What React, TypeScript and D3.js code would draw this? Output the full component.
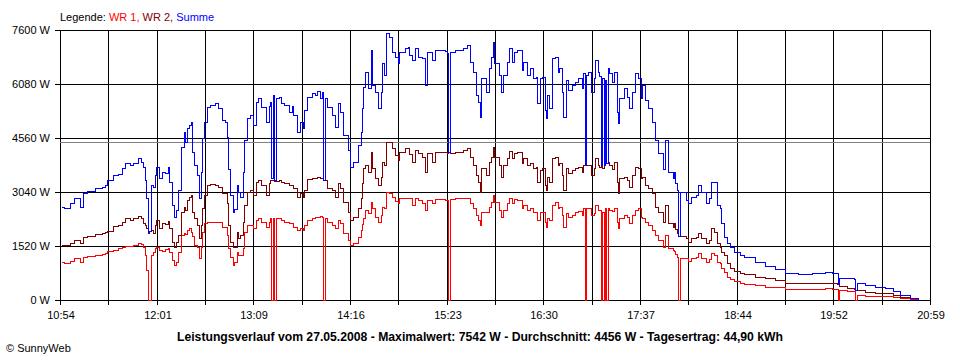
import React from "react";
import * as d3 from "d3";

// ---- data ----
const times = [
  "10:55","10:57","11:01","11:04","11:07","11:08","11:10","11:13","11:18","11:23",
  "11:25","11:27","11:31","11:34","11:37","11:39","11:43","11:45","11:48","11:50",
  "11:52","11:53","11:54","11:55","11:56","11:57","11:59","12:00","12:01","12:03",
  "12:05","12:07","12:09","12:10","12:12","12:13","12:15","12:16","12:18","12:20",
  "12:21","12:22","12:24","12:25","12:26","12:27","12:29","12:31","12:32","12:33",
  "12:34","12:36","12:38","12:42","12:44","12:47","12:49","12:50","12:51","12:52",
  "12:54","12:55","12:57","12:58","12:59","13:01","13:02","13:04","13:06","13:08",
  "13:10","13:12","13:14","13:17","13:19","13:20","13:21","13:22","13:23","13:24",
  "13:26","13:28","13:30","13:33","13:35","13:36","13:39","13:41","13:43","13:44",
  "13:46","13:49","13:51","13:53","13:55","13:56","13:57","13:58","14:00","14:03",
  "14:05","14:07","14:09","14:11","14:14","14:16","14:18","14:21","14:23","14:24",
  "14:25","14:26","14:28","14:30","14:31","14:33","14:35","14:37","14:38","14:39",
  "14:41","14:43","14:45","14:47","14:49","14:50","14:54","14:56","14:57","14:59",
  "15:01","15:03","15:06","15:08","15:09","15:13","15:15","15:18","15:22","15:23",
  "15:24","15:25","15:29","15:34","15:37","15:39","15:41","15:43","15:45","15:46",
  "15:47","15:50","15:52","15:54","15:55","15:56","15:59","16:01","16:02","16:05",
  "16:06","16:08","16:10","16:12","16:15","16:16","16:19","16:21","16:23","16:25",
  "16:26","16:28","16:29","16:31","16:32","16:33","16:34","16:36","16:38","16:40",
  "16:41","16:43","16:44","16:46","16:47","16:50","16:52","16:54","16:57","16:58",
  "16:59","17:00","17:01","17:03","17:05","17:06","17:08","17:09","17:10","17:11",
  "17:12","17:13","17:14","17:15","17:16","17:18","17:19","17:21","17:22","17:23",
  "17:26","17:28","17:30","17:32","17:34","17:36","17:38","17:39","17:41","17:43",
  "17:46","17:48","17:50","17:53","17:55","17:57","18:00","18:01","18:02","18:03",
  "18:04","18:05","18:09","18:11","18:13","18:16","18:18","18:20","18:23","18:25",
  "18:27","18:29","18:31","18:33","18:34","18:36","18:38","18:40","18:43","18:47",
  "18:50","18:57","19:04","19:11","19:18","19:27","19:37","19:46","19:51","19:54",
  "19:55","19:56","20:01","20:06","20:07","20:08","20:14","20:21","20:28","20:33",
  "20:38","20:45","20:51",
];

const wr1 = [
  1070,1040,1100,1170,1180,1070,1210,1240,1270,1300,
  1320,1370,1420,1460,1500,1520,1520,1540,1600,1590,
  1490,1270,840,0,0,1270,1350,1460,1490,1400,
  1380,1440,1460,1350,1130,990,1070,1350,1830,1890,
  1870,1970,2030,1910,1800,1550,1490,1180,1490,1910,
  2170,2200,2200,2200,2200,2060,2060,1830,1460,1210,
  990,1070,1350,1270,1270,1460,1910,2110,2110,2030,
  2250,2310,2200,2060,2200,2310,0,2310,0,2310,
  2310,2250,2200,2170,2170,2060,1970,2030,1970,2100,
  2250,2310,2340,2350,2360,2340,0,2310,2200,2110,
  2030,2250,2170,1890,1690,1550,1600,1770,1970,2150,
  2310,2530,2450,2760,2590,2340,2200,2390,2620,2590,
  3040,3010,2900,2780,2730,2870,2870,2870,2870,2670,
  2870,2815,2730,2530,2815,2730,2840,2840,2815,2815,
  0,2840,2870,2870,2870,2730,2590,2390,2250,2110,
  2480,2480,2620,2760,2950,2760,2530,2340,2530,2730,
  2870,2730,2840,2815,2590,2670,2530,2590,2480,2480,
  2250,2480,2480,2200,2060,2310,2250,2670,2760,2590,
  2620,2390,2060,2450,2340,2400,2480,2500,2390,2590,
  0,2590,2590,2390,2450,2670,2530,2530,0,2480,
  0,2590,0,2590,2530,2500,2590,2200,2030,2310,
  2390,2340,2170,2390,2530,2590,2340,2310,2200,2110,
  1970,1830,1690,1490,1830,1460,1410,1380,1300,1210,
  0,1180,1180,1100,1180,1210,1320,1180,1070,1150,
  1320,1270,1070,1040,900,790,650,590,530,490,
  460,420,380,370,310,310,310,340,310,310,
  0,280,260,250,0,140,120,110,100,80,
  55,30,0,
];

const wr2 = [
  1550,1550,1600,1690,1690,1600,1770,1800,1860,1890,
  1920,1950,2080,2110,2200,2310,2250,2310,2360,2310,
  2170,2100,2030,1890,1950,1970,1890,2110,2250,2030,
  2170,2150,2220,2030,1630,1490,1630,1830,2480,2620,
  2530,2815,2900,2950,2480,2310,2110,1740,2110,2590,
  2950,3240,3270,3240,3180,3010,3010,2730,2110,1630,
  1490,1490,1910,1740,1830,2200,2670,3040,3100,2950,
  3320,3380,3240,2950,3290,3380,3380,3380,3340,3350,
  3380,3320,3290,3240,3240,3150,2900,3010,2900,3100,
  3400,3440,3430,3460,3440,3430,3380,3380,3150,3100,
  2900,3290,3150,2760,2480,2250,2340,2590,2870,3280,
  3720,3800,3600,4170,3720,3430,3240,3460,3890,3800,
  4450,4450,4280,4080,3940,4170,4280,4280,4100,3890,
  4220,4140,4030,3600,4140,3890,4170,4170,4170,4150,
  4170,4140,4170,4220,4280,4030,3800,3520,3320,3040,
  3720,3520,3890,4030,4310,4030,3800,3460,3800,4000,
  4190,4000,4140,4170,3860,4000,3800,3860,3720,3750,
  3320,3660,3720,3240,3100,3460,3320,4000,4030,3800,
  3860,3520,3100,3720,3580,3660,3720,3750,3600,3800,
  3800,3800,3800,3520,3720,4000,3800,3750,3800,3720,
  3800,3860,3860,3890,3800,3700,3890,3320,3010,3430,
  3460,3380,3180,3520,3750,3720,3430,3460,3240,3150,
  3010,2620,2480,2200,2670,2170,2060,2170,2000,1890,
  1800,1800,1740,1630,1740,1770,1890,1740,1600,1690,
  2030,1910,1600,1490,1350,1270,1040,900,820,770,
  730,650,620,560,480,480,480,480,470,450,
  450,400,340,300,280,280,230,200,190,140,
  90,50,0,
];

const summe = [
  2630,2590,2730,2880,2870,2630,3010,3080,3150,3190,
  3240,3380,3520,3550,3720,3860,3800,3860,4000,3890,
  3750,3380,2870,1910,1950,3240,3180,3520,3750,3430,
  3600,3580,3750,3320,2670,2340,2530,3100,4300,4730,
  4450,4840,4930,5010,4170,3800,3520,2870,3600,4560,
  5010,5430,5490,5550,5400,5070,5010,4600,3700,2950,
  2480,2560,3240,3040,2900,3600,4500,5120,5200,4930,
  5570,5690,5430,5010,5450,5570,3430,5770,3380,5690,
  5710,5550,5490,5290,5450,5210,4730,5010,4840,5350,
  5710,5830,5770,5880,5700,5860,3380,5700,5430,5210,
  4870,5550,5290,4650,4220,3750,3890,4370,4730,5400,
  6000,6420,5970,7040,6050,5860,5400,5860,6670,6330,
  7520,7400,6980,6840,6670,6980,7090,7120,6900,6760,
  7090,6840,6810,6050,6980,6760,7040,7040,7010,6950,
  4170,6980,7040,7090,7180,6700,6420,5770,5570,5150,
  6250,5860,6530,6840,7260,6670,6330,5860,6330,6700,
  7090,6700,6980,7040,6470,6700,6330,6530,6250,6280,
  5550,6250,6280,5350,5120,5770,5400,6810,6840,6420,
  6530,5860,5150,6190,5910,6050,6140,6250,5970,6390,
  3800,6330,6420,5860,6250,6760,6420,6300,3800,6250,
  3800,6190,3860,6530,6390,6140,6420,5290,4980,5690,
  5970,5710,5400,5860,6390,6250,5690,6050,5630,5400,
  5000,4500,4140,3690,4500,3600,3430,3600,3290,3100,
  1800,3040,2815,2730,2900,2950,3240,3040,2730,2870,
  3320,3320,2670,2590,2170,1770,1600,1500,1350,1280,
  1210,1070,960,870,760,730,760,790,770,760,
  450,620,620,600,280,480,420,370,340,250,
  140,70,0,
];

const yTicks = [0, 1520, 3040, 4560, 6080, 7600];
const xTickLabels = ["10:54", "12:01", "13:09", "14:16", "15:23", "16:30", "17:37", "18:44", "19:52", "20:59"];
const averageW = 4456;
const titleText =
  "Leistungsverlauf vom 27.05.2008 - Maximalwert: 7542 W - Durchschnitt: 4456 W - Tagesertrag: 44,90 kWh";

const FONT = "'Liberation Sans', Arial, sans-serif";

export default function App() {
  const parse = d3.timeParse("%H:%M");
  const t0 = parse(xTickLabels[0]) as Date;
  const t1 = parse(xTickLabels[xTickLabels.length - 1]) as Date;
  const x = d3.scaleTime().domain([t0, t1]).range([60, 930]);
  const y = d3.scaleLinear().domain([0, 7600]).range([300, 30]);

  const nGrid = (xTickLabels.length - 1) * 2;
  const gridTimes = d3.range(nGrid + 1).map(
    (i) => new Date(t0.getTime() + (i * (t1.getTime() - t0.getTime())) / nGrid)
  );

  const parsedTimes = times.map((s) => parse(s) as Date);
  const line = (vals: number[]) =>
    d3
      .line<number>()
      .x((_, i) => Math.round(x(parsedTimes[i])) + 0.5)
      .y((v) => Math.round(y(v)) + 0.5)
      .curve(d3.curveStepAfter)(vals) || "";

  const px = (v: number) => Math.round(v) + 0.5;

  return (
    <svg
      width={960}
      height={360}
      style={{ position: "absolute", left: 0, top: 0, background: "#fff" }}
      fontFamily={FONT}
    >
      <rect x={0} y={0} width={960} height={360} fill="#fff" />
      {/* legend */}
      <text x={60} y={21} fontSize={11}>
        <tspan fill="#000">Legende: </tspan>
        <tspan fill="#ff0000">WR 1, </tspan>
        <tspan fill="#800000">WR 2, </tspan>
        <tspan fill="#0000ff">Summe</tspan>
      </text>

      {/* horizontal grid + y labels */}
      {yTicks.map((v) => (
        <g key={"y" + v}>
          <line x1={55} x2={930} y1={px(y(v))} y2={px(y(v))} stroke="#000" shapeRendering="crispEdges" />
          <text x={50} y={Math.round(y(v)) + 4} fontSize={11} textAnchor="end" fill="#000">
            {v + " W"}
          </text>
        </g>
      ))}

      {/* vertical grid */}
      {gridTimes.map((t, i) => (
        <line
          key={"g" + i}
          x1={px(x(t))}
          x2={px(x(t))}
          y1={30}
          y2={305}
          stroke="#000"
          shapeRendering="crispEdges"
        />
      ))}
      {xTickLabels.map((lab, i) => (
        <text
          key={"xl" + i}
          x={Math.round(x(gridTimes[i * 2])) + 1}
          y={319}
          fontSize={11}
          textAnchor="middle"
          fill="#000"
        >
          {lab}
        </text>
      ))}

      {/* average line */}
      <line
        x1={60}
        x2={930}
        y1={px(y(averageW))}
        y2={px(y(averageW))}
        stroke="#808080"
        shapeRendering="crispEdges"
      />

      {/* series */}
      <path d={line(wr1)} fill="none" stroke="#ff0000" strokeWidth={1} shapeRendering="crispEdges" />
      <path d={line(wr2)} fill="none" stroke="#800000" strokeWidth={1} shapeRendering="crispEdges" />
      <path d={line(summe)} fill="none" stroke="#0000ff" strokeWidth={1} shapeRendering="crispEdges" />

      {/* title */}
      <text
        x={177}
        y={341}
        fontSize={12}
        fontWeight="bold"
        textLength={606}
        lengthAdjust="spacingAndGlyphs"
        fill="#000"
      >
        {titleText}
      </text>
      <text x={6} y={352} fontSize={11} fill="#000">
        © SunnyWeb
      </text>
    </svg>
  );
}
